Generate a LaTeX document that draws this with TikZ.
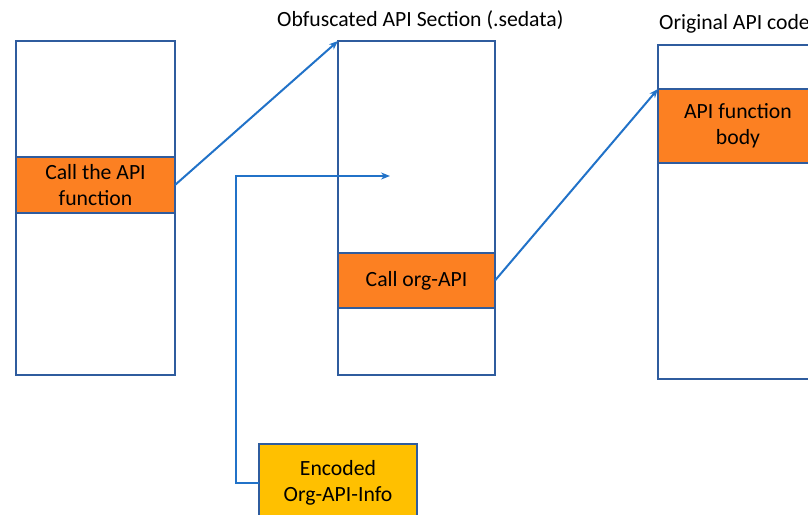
\documentclass[tikz,border=0pt]{standalone}
\usepackage{fontspec}
\setmainfont{Carlito}
\usetikzlibrary{arrows.meta}
\definecolor{boxblue}{HTML}{2F5C9E}
\definecolor{arrblue}{HTML}{2172C8}
\definecolor{fillorange}{HTML}{FC8022}
\definecolor{fillyellow}{HTML}{FFC000}
\begin{document}
\begin{tikzpicture}[x=1pt,y=-1pt,
  section/.style={draw=boxblue,line width=2.2pt,fill=white,anchor=north west,inner sep=0pt,outer sep=0pt},
  callbox/.style={draw=boxblue,line width=2.2pt,fill=fillorange,anchor=north west,inner sep=0pt,outer sep=0pt,
    align=center,font=\fontsize{21.7}{26}\selectfont,text=black},
  infobox/.style={draw=boxblue,line width=2.2pt,fill=fillyellow,anchor=north west,inner sep=0pt,outer sep=0pt,
    align=center,font=\fontsize{21.7}{26}\selectfont,text=black},
  link/.style={draw=arrblue,line width=2pt,-{Stealth[length=9pt,width=7pt]}},
  title/.style={font=\fontsize{21.7}{26}\selectfont,anchor=base west,inner sep=0pt}]
\useasboundingbox (0,0) rectangle (808,514);
\clip (0,0) rectangle (808,514);
% sections
\node[section,minimum width=159pt,minimum height=334pt] (left) at (16,41) {};
\node[section,minimum width=157pt,minimum height=334pt] (mid) at (338,41) {};
\node[section,minimum width=160pt,minimum height=334pt] (right) at (658,45) {};
% orange boxes
\node[callbox,minimum width=159pt,minimum height=56pt] (lo) at (16,157) {Call the API\\function};
\node[callbox,minimum width=157pt,minimum height=55pt] (mo) at (338,253) {Call org-API};
\node[callbox,minimum width=160pt,minimum height=74pt] (ro) at (658,89) {API function\\body};
% yellow
\node[infobox,minimum width=158pt,minimum height=78pt] (yel) at (259,444) {Encoded\\Org-API-Info};
% titles
\node[title] (t1) at (277,26) {Obfuscated API Section (.sedata)};
\node[title] (t2) at (659,29) {Original API code};
% connectors
\draw[link] (lo.east) -- (mid.north west);
\draw[link] (mo.east) -- (ro.north west);
\coordinate (bend) at (236,176);
\coordinate (tip) at (390,176);
\draw[link] (yel.west) -- (yel.west -| bend) -- (bend) -- (tip);
\end{tikzpicture}
\end{document}
